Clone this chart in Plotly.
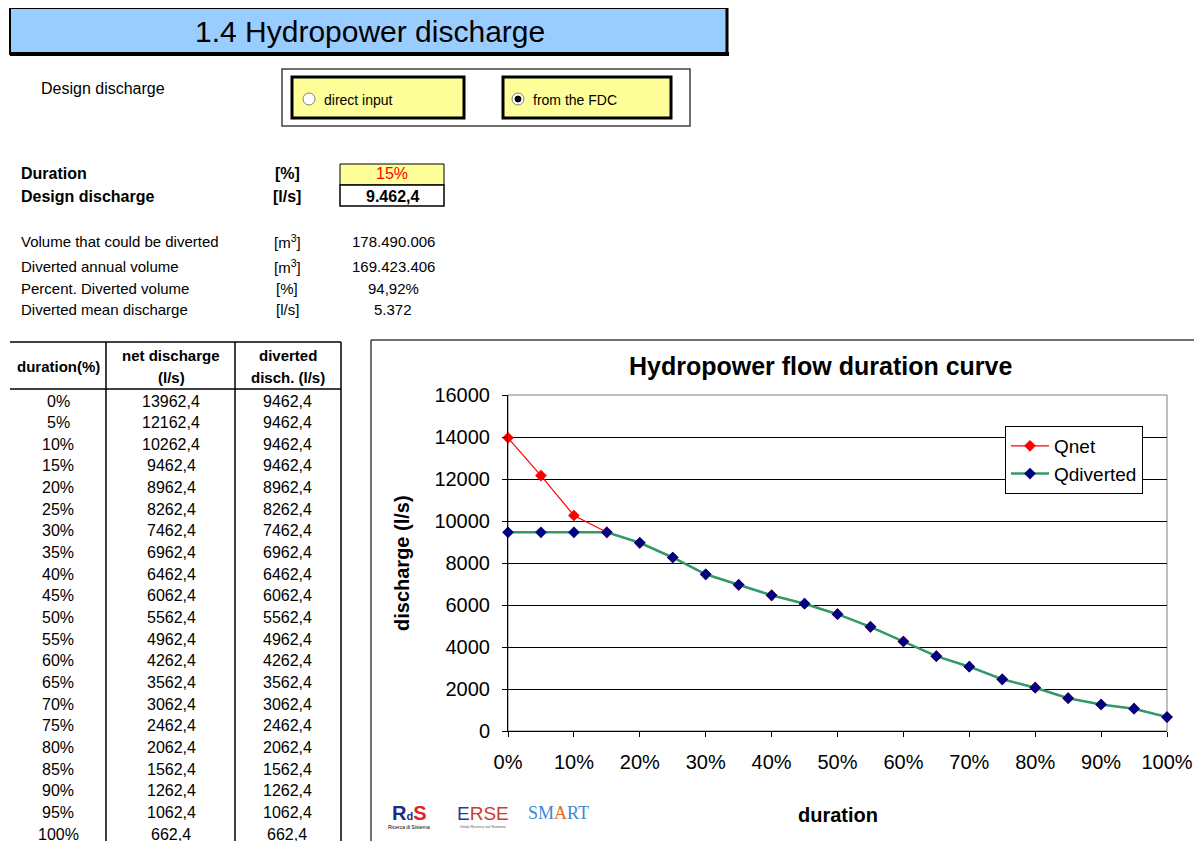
import plotly.graph_objects as go

# ---------------- data ----------------
durations = [0, 5, 10, 15, 20, 25, 30, 35, 40, 45, 50, 55, 60, 65, 70, 75, 80, 85, 90, 95, 100]
q_net = [13962.4, 12162.4, 10262.4, 9462.4, 8962.4, 8262.4, 7462.4, 6962.4, 6462.4, 6062.4,
         5562.4, 4962.4, 4262.4, 3562.4, 3062.4, 2462.4, 2062.4, 1562.4, 1262.4, 1062.4, 662.4]
q_diverted = [9462.4, 9462.4, 9462.4, 9462.4, 8962.4, 8262.4, 7462.4, 6962.4, 6462.4, 6062.4,
              5562.4, 4962.4, 4262.4, 3562.4, 3062.4, 2462.4, 2062.4, 1562.4, 1262.4, 1062.4, 662.4]
x_ticks = [0, 10, 20, 30, 40, 50, 60, 70, 80, 90, 100]
x_tick_labels = ["%d%%" % v for v in x_ticks]

summary_labels = ["Volume that could be diverted", "Diverted annual volume",
                  "Percent. Diverted volume", "Diverted mean discharge"]
summary_units = ["[m<sup>3</sup>]", "[m<sup>3</sup>]", "[%]", "[l/s]"]
summary_values = ["178.490.006", "169.423.406", "94,92%", "5.372"]

# ---------------- helpers ----------------
W, H = 1202, 841
OFF = 8  # page body margin offset
FONT = "Arial, Liberation Sans, sans-serif"


def X(x):
    return (x - OFF) / W


def Y(y):
    return 1 - (y - OFF) / H


shapes = []
annots = []


def rect(x0, y0, x1, y1, fill=None, color="black", width=1, layer="above"):
    shapes.append(dict(type="rect", xref="paper", yref="paper", x0=X(x0), x1=X(x1),
                       y0=Y(y1), y1=Y(y0), fillcolor=fill if fill else "rgba(0,0,0,0)",
                       line=dict(color=color, width=width), layer=layer))


def line(x0, y0, x1, y1, color="black", width=1):
    shapes.append(dict(type="line", xref="paper", yref="paper", x0=X(x0), x1=X(x1),
                       y0=Y(y0), y1=Y(y1), line=dict(color=color, width=width)))


def circle(cx, cy, r, fill="white", color="#808080", width=1):
    shapes.append(dict(type="circle", xref="paper", yref="paper", x0=X(cx - r), x1=X(cx + r),
                       y0=Y(cy + r), y1=Y(cy - r), fillcolor=fill, line=dict(color=color, width=width)))


def text(x, y, s, size=15, color="black", bold=False, anchor="left", family=FONT, angle=0):
    if bold:
        s = "<b>" + s + "</b>"
    annots.append(dict(x=X(x), y=Y(y), xref="paper", yref="paper", text=s, showarrow=False,
                       xanchor=anchor, yanchor="middle", textangle=angle,
                       font=dict(size=size, color=color, family=family)))


# ---------------- spreadsheet area ----------------
# Title bar
rect(10, 8, 727, 54, fill="#99CCFF", color="black", width=2)
line(10, 54, 729, 54, width=4)
line(727, 8, 727, 55, width=3)
text(370, 32, "1.4 Hydropower discharge", size=30, anchor="center")

# Design discharge option group
text(39, 88, "Design discharge", size=16)
rect(282, 69, 690, 126, fill="white", color="#404040", width=1.5)
rect(292, 77, 464, 118, fill="#FFFF99", color="black", width=3)
rect(503, 77, 671, 118, fill="#FFFF99", color="black", width=3)
circle(309, 99, 6, fill="white", color="#808080")
circle(518, 99, 6, fill="white", color="#808080")
circle(518, 99, 3, fill="black", color="black")
text(322, 100, "direct input", size=14)
text(531, 100, "from the FDC", size=14)

# Duration / design discharge
rect(340, 164, 444, 185, fill="#FFFF99", color="black", width=1)
rect(340, 185, 444, 206, fill="white", color="black", width=1.5)
text(19, 174, "Duration", size=16, bold=True)
text(19, 196, "Design discharge", size=16, bold=True)
text(287, 174, "[%]", size=16, bold=True, anchor="center")
text(287, 196, "[l/s]", size=16, bold=True, anchor="center")
text(392, 174, "15%", size=16, color="red", anchor="center")
text(392, 196, "9.462,4", size=16, bold=True, anchor="center")

# Summary rows
for i, (lab, un, val) in enumerate(zip(summary_labels, summary_units, summary_values)):
    yy = [242, 266, 288, 309][i]
    text(19, yy, lab, size=15)
    text(287, yy, un, size=15, anchor="center")
    text(393, yy, val, size=15, anchor="center")

# Table
line(10, 342, 341, 342, width=1.5)
line(10, 389, 341, 389, width=1.5)
for xx in (106, 235, 341):
    line(xx, 342, xx, 841, width=1.5)
text(58, 366, "duration(%)", size=15, bold=True, anchor="center")
text(171, 355, "net discharge", size=15, bold=True, anchor="center")
text(171, 377, "(l/s)", size=15, bold=True, anchor="center")
text(288, 355, "diverted", size=15, bold=True, anchor="center")
text(288, 377, "disch. (l/s)", size=15, bold=True, anchor="center")


def fmt(v):
    return ("%.1f" % v).replace(".", ",")


for i, (d, qn, qd) in enumerate(zip(durations, q_net, q_diverted)):
    yy = 401 + i * 21.65
    text(58, yy, "%d%%" % d, size=16, anchor="center")
    text(171, yy, fmt(qn), size=16, anchor="center")
    text(287, yy, fmt(qd), size=16, anchor="center")

# ---------------- chart area ----------------
line(371, 849, 371, 340, color="#404040", width=1.5)
line(371, 340, 1210, 340, color="#404040", width=1.5)

PX0, PX1, PY0, PY1 = 508, 1167, 395, 731
shapes.append(dict(type="rect", xref="paper", yref="paper", x0=X(PX0), x1=X(PX1),
                   y0=Y(PY1), y1=Y(PY0), line=dict(color="#808080", width=1), layer="below"))

text(820, 366, "Hydropower flow duration curve", size=25, bold=True, anchor="center")
text(402, 563, "discharge (l/s)", size=20, bold=True, anchor="center", angle=-90)
text(838, 815, "duration", size=20, bold=True, anchor="center")

# logos (text approximations)
text(409, 813, "<span style='color:#1a2a8a'>R</span><span style='color:#1a2a8a;font-size:11px'>d</span>"
     "<span style='color:#e0202a'>S</span>", size=20, bold=True, anchor="center")
text(409, 827, "Ricerca di Sistema", size=5, anchor="center")
text(483, 813, "<span style='color:#2a3a9a'>E</span><span style='color:#d03a2a'>RSE</span>",
     size=19, anchor="center")
text(483, 826, "Unità Ricerca sul Sistema", size=4, color="#555", anchor="center")
text(558, 813, "<span style='color:#3a8ad0'>SM</span><span style='color:#e07020'>A</span>"
     "<span style='color:#3a8ad0'>RT</span>", size=18, anchor="center",
     family="Times New Roman, Liberation Serif, serif")

fig = go.Figure()
fig.add_trace(go.Scatter(x=durations, y=q_net, name="Qnet", mode="lines+markers",
                         line=dict(color="#FF0000", width=1.2),
                         marker=dict(symbol="diamond", size=9, color="#FF0000"),
                         cliponaxis=False))
fig.add_trace(go.Scatter(x=durations, y=q_diverted, name="Qdiverted", mode="lines+markers",
                         line=dict(color="#339966", width=2.5),
                         marker=dict(symbol="diamond", size=9, color="#000080"),
                         cliponaxis=False))

fig.update_layout(
    template="none",
    width=W, height=H, margin=dict(l=0, r=0, t=0, b=0, pad=0, autoexpand=False),
    paper_bgcolor="white", plot_bgcolor="white",
    font=dict(family=FONT, color="black"),
    shapes=shapes, annotations=annots,
    showlegend=True,
    legend=dict(x=X(1005), y=Y(426), xanchor="left", yanchor="top",
                bgcolor="white", bordercolor="black", borderwidth=1,
                font=dict(size=19, family=FONT), itemwidth=38, tracegroupgap=0),
    xaxis=dict(domain=[X(PX0), X(PX1)], range=[0, 100], tickmode="array",
               tickvals=x_ticks, ticktext=x_tick_labels, automargin=False,
               showgrid=False, zeroline=False, showline=True,
               linecolor="black", linewidth=1, ticks="outside", ticklen=5,
               tickcolor="black", tickfont=dict(size=20, family=FONT),
               ticklabelstandoff=8, fixedrange=True),
    yaxis=dict(domain=[Y(PY1), Y(PY0)], range=[0, 16000], dtick=2000, tickformat="d",
               automargin=False,
               showgrid=True, gridcolor="black", gridwidth=1.2, zeroline=False,
               showline=True, linecolor="black", linewidth=1, ticks="outside",
               ticklen=5, tickcolor="black", tickfont=dict(size=20, family=FONT),
               ticklabelstandoff=8, fixedrange=True),
)

fig.write_html("out.html")
